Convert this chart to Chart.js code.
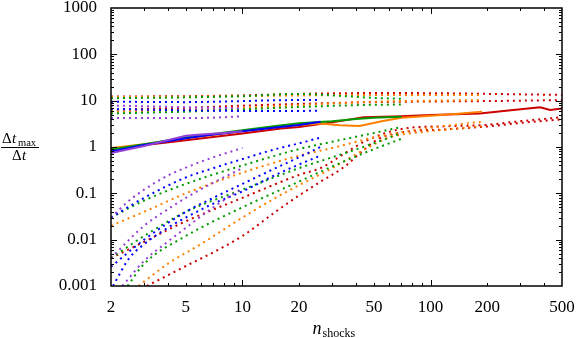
<!DOCTYPE html>
<html><head><meta charset="utf-8">
<script src="https://cdn.jsdelivr.net/npm/chart.js@4/dist/chart.umd.min.js"></script>
<style>html,body{margin:0;padding:0;background:#fff}</style>
</head><body>
<canvas id="c" width="576" height="338" style="width:576px;height:338px;display:block"></canvas>
<script>
// ---- tick values ----
const xTicks = [2, 5, 10, 20, 50, 100, 200, 500];
const xTickLabels = ['2', '5', '10', '20', '50', '100', '200', '500'];
const yTicks = [0.001, 0.01, 0.1, 1, 10, 100, 1000];
const yTickLabels = ['0.001', '0.01', '0.1', '1', '10', '100', '1000'];
const minorMultipliers = [2, 3, 4, 5, 6, 7, 8, 9];
const decadesX = [1, 10, 100];
const decadesY = [0.001, 0.01, 0.1, 1, 10, 100];

// ---- series (n_shocks, dt_max/dt) ----
const purpleMedian = [[2,0.74],[3,1.05],[4,1.4],[5,1.75],[6,1.85],[8,2.0],[10,2.2]];
const purpleUpper1 = [[2,7.8],[3,7.6],[5,7.2],[7,7.0],[10,6.8]];
const purpleUpper2 = [[2,4.2],[3,4.2],[5,4.2],[7,4.3],[10,4.6]];
const purpleLower1 = [[2,0.03],[2.5,0.07],[3,0.12],[4,0.24],[5,0.36],[7,0.6],[10,0.95]];
const purpleLower2 = [[2,0.004],[3,0.02],[4,0.045],[5,0.08],[7,0.17],[10,0.35]];
const purpleLower3 = [[2.3,0.001],[3,0.0035],[4,0.009],[5,0.018],[7,0.05],[10,0.13]];

const blueMedian = [[2,0.8],[3,1.1],[5,1.55],[7,1.85],[10,2.2],[15,2.65],[20,3.0],[26,3.5]];
const blueUpper1 = [[2,9.5],[5,9.3],[10,9.8],[15,10.2],[20,10.3],[26,10.3]];
const blueUpper2 = [[2,6.6],[5,6.2],[10,6.0],[15,6.0],[20,6.0],[26,6.1]];
const blueLower1 = [[2,0.03],[3,0.08],[5,0.22],[7,0.35],[10,0.55],[15,0.9],[20,1.2],[26,1.6]];
const blueLower2 = [[2,0.0026],[3,0.01],[5,0.04],[7,0.08],[10,0.16],[15,0.35],[20,0.6],[26,1.0]];
const blueLower3 = [[2.05,0.001],[2.5,0.004],[3,0.008],[4,0.018],[5,0.03],[7,0.06],[10,0.11],[15,0.25],[20,0.42],[26,0.65]];

const greenMedian = [[2,0.88],[3,1.15],[5,1.6],[10,2.3],[15,2.85],[20,3.25],[30,3.6],[40,4.0],[50,4.3],[70,4.5]];
const greenUpper1 = [[2,11.3],[5,11.8],[10,12.5],[20,14],[30,13],[50,11.5],[70,11]];
const greenUpper2 = [[2,5.3],[5,5.8],[10,6.5],[20,7.3],[40,8],[70,8.3]];
const greenLower1 = [[2,0.03],[3,0.07],[5,0.16],[10,0.4],[20,0.9],[30,1.3],[50,2.0],[70,2.7]];
const greenLower2 = [[2,0.004],[3,0.012],[5,0.04],[10,0.12],[20,0.35],[30,0.6],[50,1.2],[70,2.0]];
const greenLower3 = [[2.45,0.001],[3,0.003],[5,0.012],[10,0.05],[20,0.18],[30,0.38],[50,0.9],[70,1.5]];

const orangeMedian = [[2,0.95],[3,1.15],[5,1.55],[10,2.2],[15,2.7],[20,3.0],[26,3.2],[33,2.95],[42,2.85],[55,3.6],[70,4.3],[100,4.7],[140,5.2],[188,5.8]];
const orangeUpper1 = [[2,12.0],[5,12.2],[10,12.5],[20,13],[50,13.3],[100,13.3],[188,13.3]];
const orangeUpper2 = [[2,5.8],[5,6.3],[10,7],[20,8],[50,9.5],[100,10],[188,10.3]];
const orangeLower1 = [[2,0.02],[3,0.04],[5,0.1],[10,0.28],[20,0.65],[30,0.95],[50,1.6],[100,2.6],[188,3.5]];
const orangeLower2 = [[2.8,0.001],[4,0.003],[6,0.008],[10,0.03],[15,0.08],[20,0.15],[30,0.35],[45,0.9],[60,1.6],[100,2.2],[188,2.8]];

const redMedian = [[2,0.9],[5,1.4],[10,1.95],[16,2.5],[20,2.7],[30,3.4],[44,4.4],[70,4.6],[100,4.9],[183,5.3],[275,6.3],[383,7.2],[432,6.3],[500,6.8]];
const redUpper1 = [[2,12.3],[5,12.5],[10,13],[20,14],[50,14.6],[100,14.5],[200,14],[500,13.3]];
const redUpper2 = [[2,6.4],[5,7],[10,7.8],[20,8.5],[50,9.3],[100,9.6],[200,9.8],[500,10.3]];
const redLower1 = [[2,0.004],[3,0.009],[5,0.025],[10,0.08],[20,0.25],[26,0.35],[35,0.73],[46,1.4],[72,2.5],[120,2.8],[195,3.0],[300,3.6],[500,4.4]];
const redLower2 = [[3.1,0.001],[5,0.0027],[7.4,0.006],[10,0.012],[15,0.04],[20,0.09],[26,0.178],[35,0.38],[42,0.73],[53,1.5],[72,2.1],[120,2.4],[195,2.75],[300,3.3],[500,3.96]];

const COLORS = {purple:'#9440d8', blue:'#0000ff', green:'#009a00', orange:'#ff8000', red:'#cc0000'};

const groups = [
  {c:'red',    med:redMedian,    dots:[redUpper1, redUpper2, redLower1, redLower2], z:5},
  {c:'orange', med:orangeMedian, dots:[orangeUpper1, orangeUpper2, orangeLower1, orangeLower2], z:4},
  {c:'green',  med:greenMedian,  dots:[greenUpper1, greenUpper2, greenLower1, greenLower2, greenLower3], z:3},
  {c:'blue',   med:blueMedian,   dots:[blueUpper1, blueUpper2, blueLower1, blueLower2, blueLower3], z:2},
  {c:'purple', med:purpleMedian, dots:[purpleUpper1, purpleUpper2, purpleLower1, purpleLower2, purpleLower3], z:1},
];

const toPts = arr => arr.map(p => ({x:p[0], y:p[1]}));
const datasets = [];
groups.forEach(g => {
  g.dots.forEach(d => datasets.push({
    data: toPts(d), borderColor: COLORS[g.c], borderWidth: 2, borderDash: [2, 4],
    borderCapStyle: 'butt', pointRadius: 0, fill: false, cubicInterpolationMode: 'monotone', order: 20 + g.z
  }));
});
groups.forEach(g => {
  datasets.push({
    data: toPts(g.med), borderColor: COLORS[g.c], borderWidth: 2,
    pointRadius: 0, fill: false, tension: 0, order: g.z
  });
});

const SERIF = '"Liberation Serif", "DejaVu Serif", serif';

const framePlugin = {
  id: 'frame',
  afterDatasetsDraw(chart) {
    const {ctx, chartArea: a, scales: {x, y}} = chart;
    ctx.save();
    ctx.strokeStyle = '#000';
    ctx.lineWidth = 1;
    const seg = (x1, y1, x2, y2) => { ctx.beginPath(); ctx.moveTo(x1, y1); ctx.lineTo(x2, y2); ctx.stroke(); };
    decadesX.forEach(d => {
      [1].concat(minorMultipliers).forEach(m => {
        const v = d * m;
        if (v <= 2 || v >= 500) return;
        const px = Math.round(x.getPixelForValue(v)) + 0.5;
        const L = m === 1 ? 6 : 3;
        seg(px, a.bottom, px, a.bottom - L);
        seg(px, a.top, px, a.top + L);
      });
    });
    decadesY.concat([1000]).forEach(d => {
      const ms = d === 1000 ? [1] : [1].concat(minorMultipliers);
      ms.forEach(m => {
        const v = d * m;
        if (v <= 0.001 || v >= 1000) return;
        const py = Math.round(y.getPixelForValue(v)) + 0.5;
        const L = m === 1 ? 6 : 3;
        seg(a.left, py, a.left + L, py);
        seg(a.right, py, a.right - L, py);
      });
    });
    ctx.lineWidth = 1.5;
    ctx.strokeRect(a.left, a.top, a.right - a.left, a.bottom - a.top);
    ctx.restore();
  },
  afterDraw(chart) {
    const {ctx, chartArea: a} = chart;
    ctx.save();
    ctx.fillStyle = '#000';
    ctx.textBaseline = 'alphabetic';
    // y title: fraction  Δt_max / Δt
    ctx.font = '15px ' + SERIF;
    ctx.textAlign = 'left';
    ctx.fillText('Δ', 2, 143);
    ctx.font = 'italic 15px ' + SERIF;
    ctx.fillText('t', 12, 143);
    ctx.font = '10.5px ' + SERIF;
    ctx.fillText('max', 18, 146);
    ctx.fillRect(1, 147, 38, 1);
    ctx.font = '15px ' + SERIF;
    ctx.fillText('Δ', 12, 160);
    ctx.font = 'italic 15px ' + SERIF;
    ctx.fillText('t', 22, 160);
    // x title: n_shocks
    const cx = (a.left + a.right) / 2;
    ctx.font = 'italic 18px ' + SERIF;
    ctx.fillText('n', cx - 24, 334);
    ctx.font = '12px ' + SERIF;
    ctx.fillText('shocks', cx - 14, 337);
    ctx.restore();
  }
};

new Chart(document.getElementById('c'), {
  type: 'line',
  data: {datasets},
  options: {
    responsive: false, animation: false, devicePixelRatio: 1,
    layout: {padding: {top: 8, right: 14, left: 0, bottom: 0}},
    plugins: {legend: {display: false}, tooltip: {enabled: false}},
    scales: {
      x: {
        type: 'logarithmic', min: 2, max: 500,
        afterBuildTicks: s => { s.ticks = xTicks.map(v => ({value: v})); },
        afterFit: s => { s.height = 52; s.paddingLeft = 0; s.paddingRight = 0; },
        grid: {display: false, drawTicks: false}, border: {display: false},
        ticks: {
          autoSkip: false, maxRotation: 0, padding: 11, color: '#000',
          font: {family: SERIF, size: 17},
          callback: (v, i) => xTickLabels[i]
        }
      },
      y: {
        type: 'logarithmic', min: 0.001, max: 1000,
        afterBuildTicks: s => { s.ticks = yTicks.map(v => ({value: v})); },
        afterFit: s => { s.width = 111; s.paddingTop = 0; s.paddingBottom = 0; },
        grid: {display: false, drawTicks: false}, border: {display: false},
        ticks: {
          autoSkip: false, padding: 14, color: '#000',
          font: {family: SERIF, size: 17},
          callback: (v, i) => yTickLabels[i]
        }
      }
    }
  },
  plugins: [framePlugin]
});
</script>
</body></html>
